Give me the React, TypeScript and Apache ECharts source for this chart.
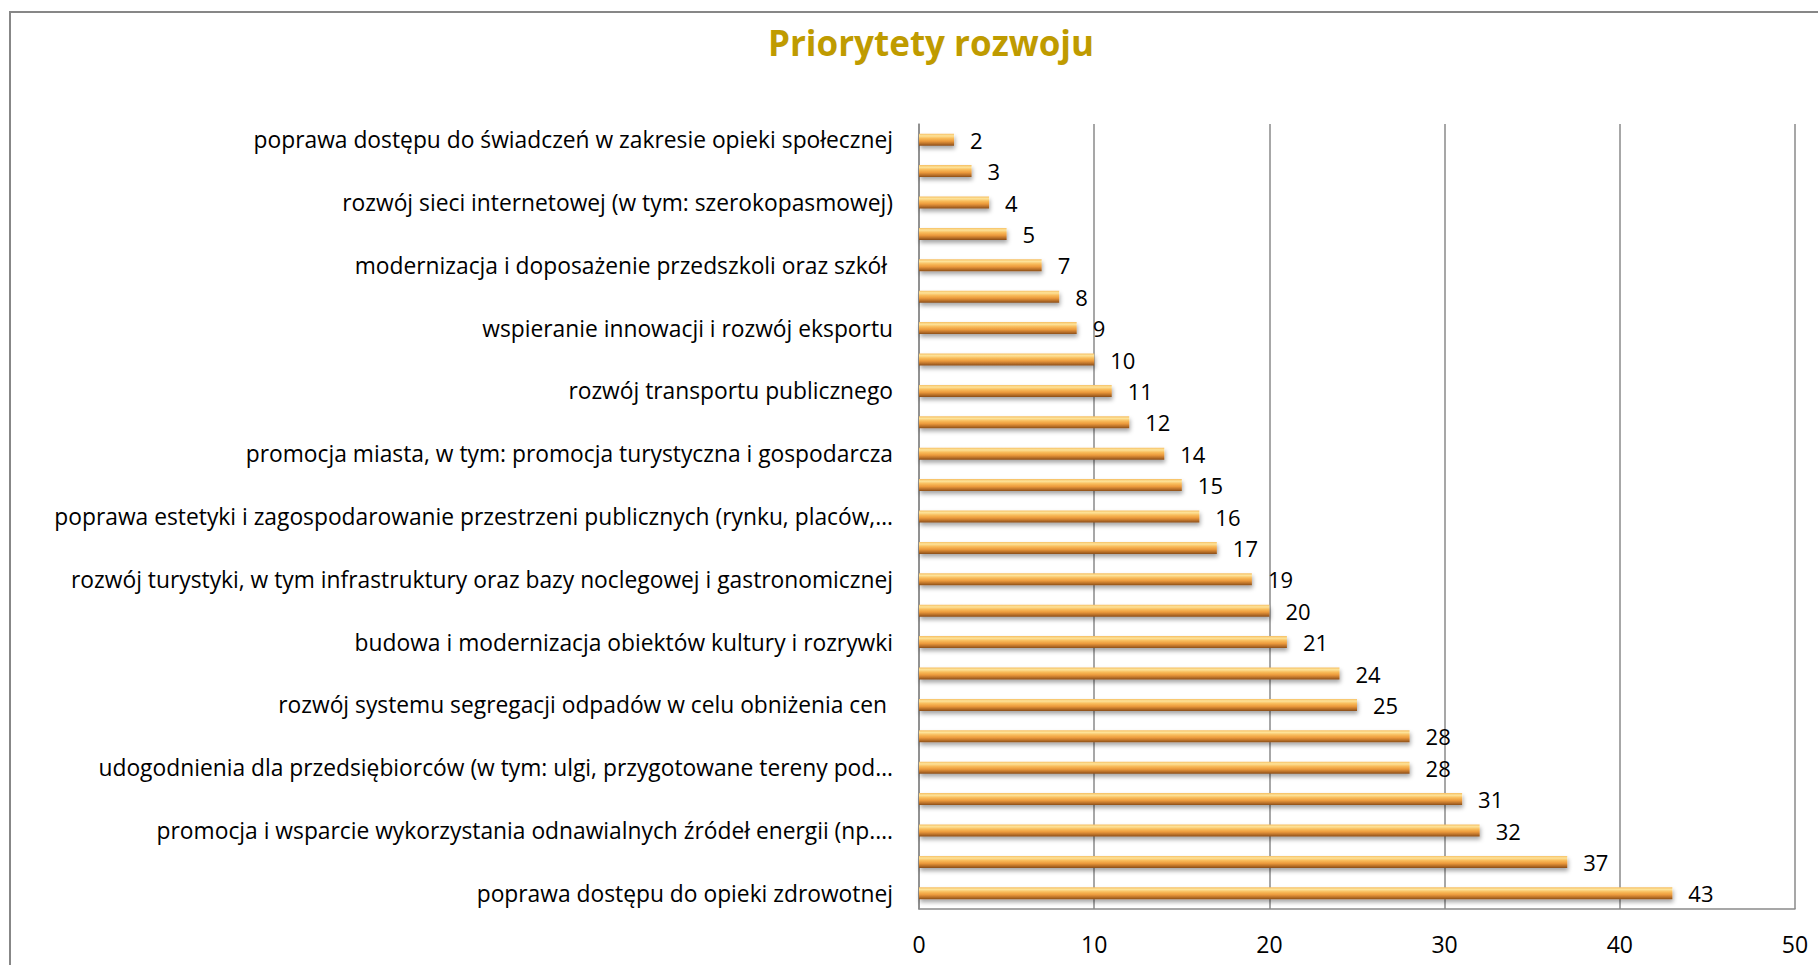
import React, { useEffect, useRef } from "react";
import * as echarts from "echarts";

const TITLE = "Priorytety rozwoju";

// bottom -> top (category axis order)
const categories: string[] = [
  "poprawa dostępu do opieki zdrowotnej",
  "(kategoria bez etykiety 1)",
  "promocja i wsparcie wykorzystania odnawialnych źródeł energii (np.…",
  "(kategoria bez etykiety 2)",
  "udogodnienia dla przedsiębiorców (w tym: ulgi, przygotowane tereny pod…",
  "(kategoria bez etykiety 3)",
  "rozwój systemu segregacji odpadów w celu obniżenia cen ",
  "(kategoria bez etykiety 4)",
  "budowa i modernizacja obiektów kultury i rozrywki",
  "(kategoria bez etykiety 5)",
  "rozwój turystyki, w tym infrastruktury oraz bazy noclegowej i gastronomicznej",
  "(kategoria bez etykiety 6)",
  "poprawa estetyki i zagospodarowanie przestrzeni publicznych (rynku, placów,…",
  "(kategoria bez etykiety 7)",
  "promocja miasta, w tym: promocja turystyczna i gospodarcza",
  "(kategoria bez etykiety 8)",
  "rozwój transportu publicznego",
  "(kategoria bez etykiety 9)",
  "wspieranie innowacji i rozwój eksportu",
  "(kategoria bez etykiety 10)",
  "modernizacja i doposażenie przedszkoli oraz szkół ",
  "(kategoria bez etykiety 11)",
  "rozwój sieci internetowej (w tym: szerokopasmowej)",
  "(kategoria bez etykiety 12)",
  "poprawa dostępu do świadczeń w zakresie opieki społecznej",
];

const values: number[] = [
  43, 37, 32, 31, 28, 28, 25, 24, 21, 20, 19, 17, 16, 15, 14, 12, 11, 10, 9, 8, 7, 5, 4, 3, 2,
];

const xTicks = { min: 0, max: 50, interval: 10 };

export default function App() {
  const ref = useRef<HTMLDivElement>(null);

  useEffect(() => {
    document.body.style.margin = "0";
    if (!ref.current) return;
    const chart = echarts.init(ref.current, undefined, { renderer: "svg" });
    const barGradient = new echarts.graphic.LinearGradient(0, 0, 0, 1, [
      { offset: 0, color: "#f6bf62" },
      { offset: 0.18, color: "#fde39a" },
      { offset: 0.38, color: "#f9bd5c" },
      { offset: 0.62, color: "#ec9a3c" },
      { offset: 0.85, color: "#b56d27" },
      { offset: 1, color: "#8a4d18" },
    ]);
    chart.setOption({
      animation: false,
      backgroundColor: "#ffffff",
      title: {
        text: TITLE,
        left: 926,
        top: 20,
        textAlign: "center",
        textStyle: {
          fontFamily: "Open Sans",
          fontWeight: "bold",
          fontSize: 35,
          color: "#bf9b00",
        },
      },
      graphic: [
        {
          type: "rect",
          shape: { x: 10, y: 12, width: 1840, height: 1000 },
          style: { fill: "none", stroke: "#878787", lineWidth: 2 },
          silent: true,
        },
      ],
      grid: { left: 919, right: 23, top: 124, bottom: 56, containLabel: false },
      xAxis: {
        type: "value",
        min: xTicks.min,
        max: xTicks.max,
        interval: xTicks.interval,
        axisLine: { show: true, lineStyle: { color: "#8a8a8a", width: 1.5 } },
        axisTick: { show: false },
        splitLine: { show: true, lineStyle: { color: "#8a8a8a", width: 1.5 } },
        axisLabel: {
          margin: 23,
          fontFamily: "Open Sans",
          fontSize: 23,
          color: "#000000",
        },
      },
      yAxis: {
        type: "category",
        data: categories,
        axisLine: { show: true, lineStyle: { color: "#8a8a8a", width: 1.5 } },
        axisTick: { show: false },
        axisLabel: {
          interval: 1,
          margin: 26,
          fontFamily: "Open Sans",
          fontSize: 22.8,
          color: "#000000",
        },
      },
      series: [
        {
          type: "bar",
          data: values,
          barWidth: 12,
          itemStyle: {
            color: barGradient,
            shadowColor: "rgba(0,0,0,0.35)",
            shadowBlur: 4,
            shadowOffsetY: 3,
            shadowOffsetX: 1,
          },
          label: {
            show: true,
            position: "right",
            distance: 16,
            fontFamily: "Open Sans",
            fontSize: 22,
            color: "#000000",
          },
        },
      ],
    });
    return () => chart.dispose();
  }, []);

  return <div ref={ref} style={{ width: 1818, height: 965 }} />;
}
